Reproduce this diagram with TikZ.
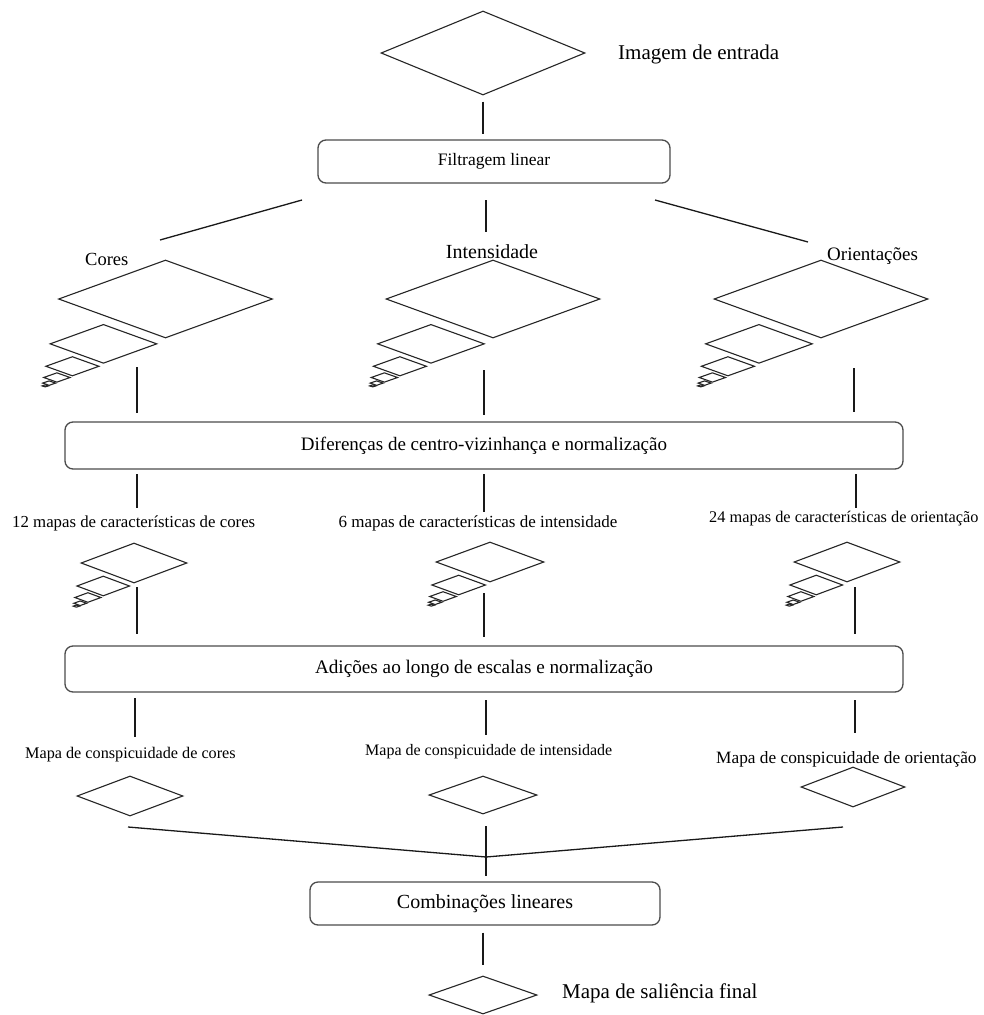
\documentclass[tikz,border=0pt]{standalone}
\usepackage{fontspec}
\setmainfont{Liberation Serif}
\usetikzlibrary{shapes.geometric}

\newcommand\fsz[1]{\fontsize{#1}{#1}\selectfont}

\tikzset{
  map/.style n args={2}{diamond, draw=black!85, line width=1.1pt, inner sep=0pt,
    minimum width=#1, minimum height=#2},
  stage/.style n args={2}{draw=black!70, line width=1.3pt, rounded corners=8pt,
    minimum width=#1, minimum height=#2, inner sep=0pt},
  lbl/.style={inner sep=0pt, anchor=base},
  link/.style={line width=1.3pt, draw=black!90},
}

% Gaussian pyramid: #1 name, #2/#3 centre of the largest level,
% #4/#5 half width / half height of the largest level, #6 last level index
\newcommand\pyramid[6]{%
  \foreach \k in {0,...,#6}{%
    \pgfmathsetmacro\fac{0.5^\k}%
    \pgfmathsetmacro\acc{2*(1-\fac)}%
    \pgfmathsetmacro\px{#2-0.58*#4*\acc}%
    \pgfmathsetmacro\py{#3+1.15*#5*\acc}%
    \pgfmathsetmacro\pw{2*#4*\fac}%
    \pgfmathsetmacro\ph{2*#5*\fac}%
    \node[map={\pw pt}{\ph pt}] (#1-\k) at (\px,\py) {};
  }%
}

\begin{document}
\begin{tikzpicture}[x=1pt, y=-1pt]
  \clip (0,0) rectangle (983,1015);
  \fill[white] (0,0) rectangle (983,1015);

  % input image
  \node[map={204pt}{84pt}] (img) at (483,53) {};
  \node[lbl, anchor=base west] (imglbl) at (618,59) {\fsz{21}Imagem de entrada};

  % linear filtering
  \node[stage={352pt}{43pt}] (filt) at (494,161.5) {\fsz{17.5}Filtragem linear};
  \draw[link, shorten <=6pt, shorten >=5pt] (img.south) -- (img.south |- filt.north);

  \coordinate (fa1) at (302,200); \coordinate (fb1) at (160,240);
  \coordinate (fa2) at (486,200); \coordinate (fb2) at (486,232);
  \coordinate (fa3) at (655,200); \coordinate (fb3) at (808,242);
  \draw[link] (fa1) -- (fb1);
  \draw[link] (fa2) -- (fb2);
  \draw[link] (fa3) -- (fb3);

  % feature channels
  \node[lbl, anchor=base west] (cores) at (85,265) {\fsz{18.5}Cores};
  \node[lbl] (inten) at (492,258) {\fsz{20}Intensidade};
  \node[lbl, anchor=base west] (orien) at (827,260) {\fsz{19}Orientações};

  \pyramid{pc}{165.5}{299}{107}{39}{5}
  \pyramid{pi}{493}{299}{107}{39}{5}
  \pyramid{po}{821}{299}{107}{39}{5}

  \coordinate (sa1) at (137,367); \coordinate (sb1) at (137,413);
  \coordinate (sa2) at (484,370); \coordinate (sb2) at (484,415);
  \coordinate (sa3) at (854,368); \coordinate (sb3) at (854,412);
  \draw[link] (sa1) -- (sb1);
  \draw[link] (sa2) -- (sb2);
  \draw[link] (sa3) -- (sb3);

  % center-surround differences
  \node[stage={838pt}{47pt}] (dif) at (484,445.5)
    {\fsz{19}Diferenças de centro-vizinhança e normalização};

  \coordinate (da1) at (137,474); \coordinate (db1) at (137,508);
  \coordinate (da2) at (484,474); \coordinate (db2) at (484,512);
  \coordinate (da3) at (856,474); \coordinate (db3) at (856,508);
  \draw[link] (da1) -- (db1);
  \draw[link] (da2) -- (db2);
  \draw[link] (da3) -- (db3);

  % feature maps
  \node[lbl, anchor=base west] (fmc) at (12,527) {\fsz{16.8}12 mapas de características de cores};
  \node[lbl] (fmi) at (478,527) {\fsz{17}6 mapas de características de intensidade};
  \node[lbl, anchor=base west] (fmo) at (709,522) {\fsz{16.3}24 mapas de características de orientação};

  \pyramid{qc}{134}{563}{53}{20}{4}
  \pyramid{qi}{490}{562}{54}{20}{4}
  \pyramid{qo}{847}{562}{53}{20}{4}

  \coordinate (qa1) at (137,587); \coordinate (qb1) at (137,634);
  \coordinate (qa2) at (484,593); \coordinate (qb2) at (484,637);
  \coordinate (qa3) at (855,587); \coordinate (qb3) at (855,634);
  \draw[link] (qa1) -- (qb1);
  \draw[link] (qa2) -- (qb2);
  \draw[link] (qa3) -- (qb3);

  % across-scale additions
  \node[stage={838pt}{46pt}] (adi) at (484,669)
    {\fsz{19.2}Adições ao longo de escalas e normalização};

  \coordinate (aa1) at (135,698); \coordinate (ab1) at (135,737);
  \coordinate (aa2) at (486,700); \coordinate (ab2) at (486,735);
  \coordinate (aa3) at (855,700); \coordinate (ab3) at (855,733);
  \draw[link] (aa1) -- (ab1);
  \draw[link] (aa2) -- (ab2);
  \draw[link] (aa3) -- (ab3);

  % conspicuity maps
  \node[lbl, anchor=base west] (cmc) at (25,758) {\fsz{16.2}Mapa de conspicuidade de cores};
  \node[lbl, anchor=base west] (cmi) at (365,755) {\fsz{16}Mapa de conspicuidade de intensidade};
  \node[lbl, anchor=base west] (cmo) at (716,763) {\fsz{17.3}Mapa de conspicuidade de orientação};

  \node[map={106pt}{40pt}] (mc) at (130,796) {};
  \node[map={108pt}{38pt}] (mi) at (483,795) {};
  \node[map={104pt}{40pt}] (mo) at (853,787) {};

  \coordinate (jl) at (128,827);
  \coordinate (jr) at (843,827);
  \coordinate (jt) at (486,826);
  \coordinate (join) at (486,857);
  \draw[link] (jl) -- (join) -- (jr);

  % linear combination and final saliency map
  \node[stage={350pt}{43pt}] (comb) at (485,903.5) {\fsz{20}Combinações lineares};
  \draw[link, shorten >=5pt] (jt) -- (jt |- comb.north);

  \node[map={108pt}{38pt}] (sal) at (483,995) {};
  \draw[link, shorten <=7pt, shorten >=10pt] (sal.north |- comb.south) -- (sal.north);
  \node[lbl, anchor=base west] (sallbl) at (562,998) {\fsz{21}Mapa de saliência final};
\end{tikzpicture}
\end{document}
